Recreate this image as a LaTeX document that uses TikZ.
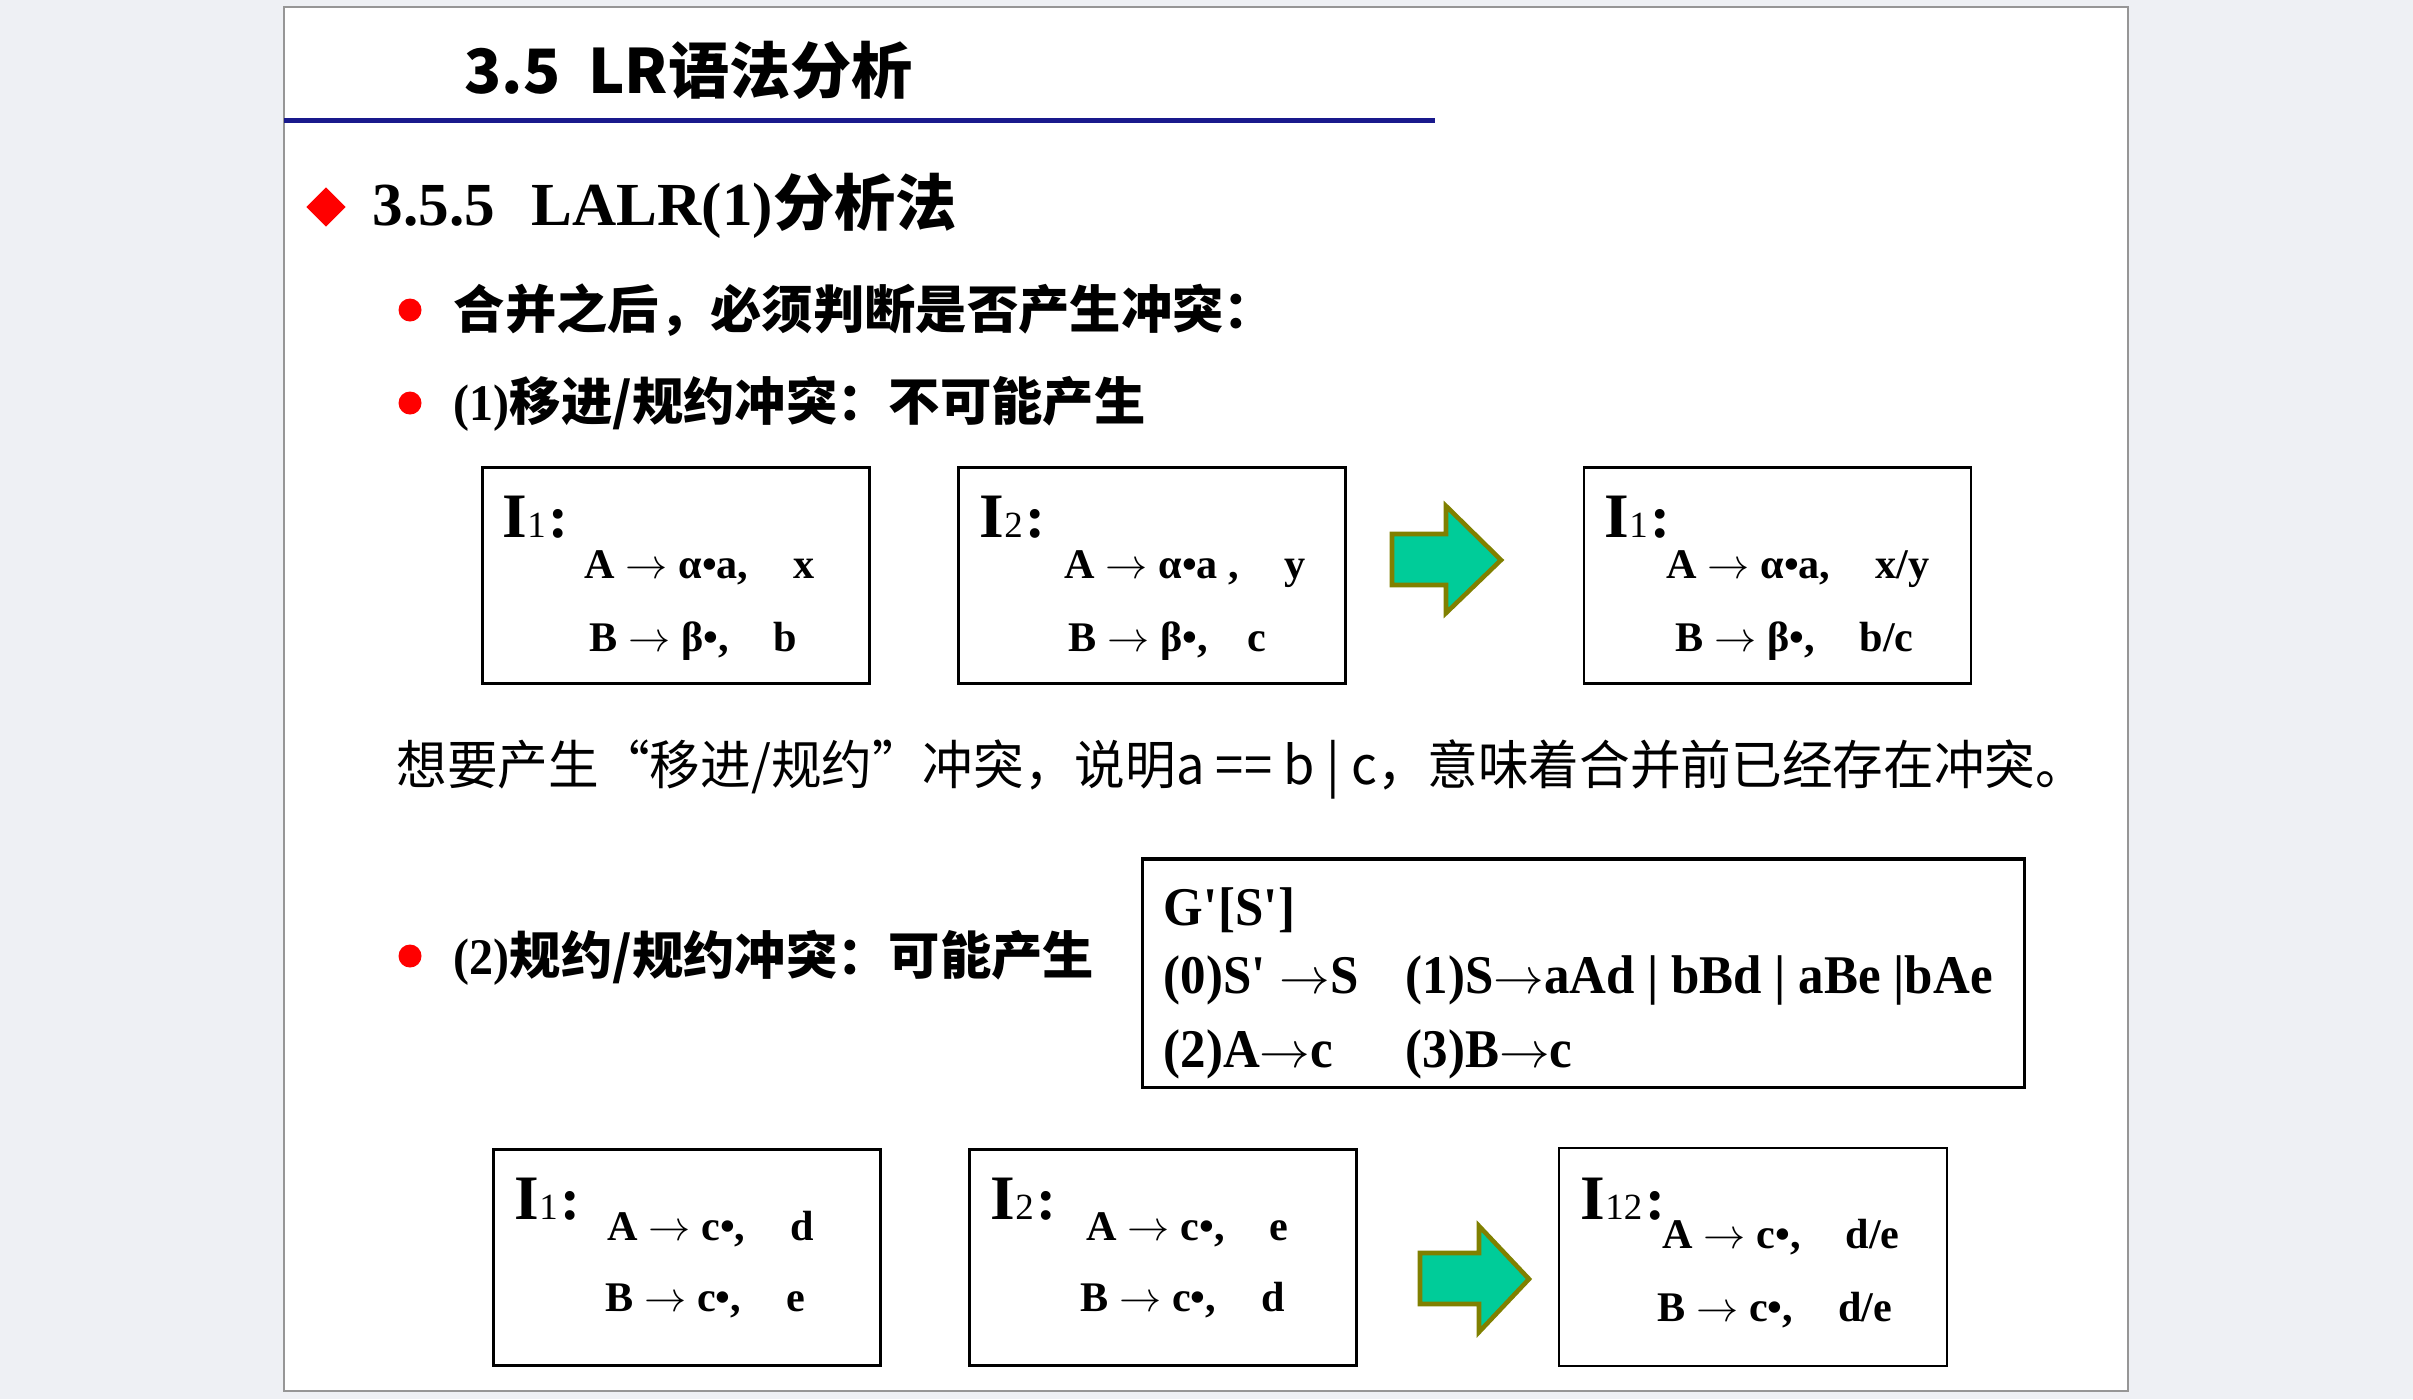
\documentclass[tikz,border=0pt]{standalone}
\usepackage{fontspec}
\setmainfont{Liberation Serif}
\newfontfamily\cjkfont{Noto Sans CJK SC}
\newfontfamily\cjknarrow[FakeStretch=0.96]{Noto Sans CJK SC}
\newfontfamily\narrowfont[FakeStretch=0.935]{Liberation Serif}
\usetikzlibrary{shapes.geometric}

\definecolor{pagegray}{RGB}{238,240,244}
\definecolor{slideedge}{RGB}{150,150,150}
\definecolor{titleblue}{RGB}{25,25,140}
\definecolor{arrowfill}{RGB}{0,204,153}
\definecolor{arrowedge}{RGB}{128,128,0}

% label of an item set: big I, small index, colon
\newcommand{\Ilab}[1]{{\fontsize{18}{18}\selectfont\bfseries I}{\fontsize{10.5}{10.5}\selectfont #1}\hspace{0.03cm}{\fontsize{17}{17}\selectfont\bfseries :}}
\newcommand{\ar}{$\rightarrow$}
\newcommand{\q}{\textquotesingle}

\begin{document}
\begin{tikzpicture}[x=0.01cm, y=-0.01cm,
    txt/.style={anchor=base west, inner sep=0pt},
    itembox/.style={draw, line width=0.7pt, minimum width=3.87cm, minimum height=2.16cm, inner sep=0pt},
    prod/.style={txt, font=\bfseries\fontsize{12}{14}\selectfont},
    gram/.style={txt, font=\narrowfont\bfseries\fontsize{15.5}{18}\selectfont},
    dot/.style={circle, fill=red, minimum size=0.23cm, inner sep=0pt},
    mergearrow/.style={fill=arrowfill, draw=arrowedge, line width=1.3pt, line join=miter}]
  \useasboundingbox (0,0) rectangle (2413,1399);
  \fill[pagegray] (0,0) rectangle (2413,1399);
  \filldraw[fill=white, draw=slideedge, line width=0.5pt] (284,7) rectangle (2128,1391);

  % TITRE
  \node[txt, font=\cjkfont\bfseries\fontsize{17.4}{20}\selectfont] (title) at (464,93) {3.5\hspace{0.45em}LR语法分析};
  \draw[titleblue, line width=0.05cm] (284,120) -- (1435,120);

  % SOUS-TITRE
  \node[diamond, fill=red, minimum width=0.4cm, minimum height=0.4cm, inner sep=0pt] (dia) at (326,207) {};
  \node[txt, font=\fontsize{17.4}{20}\selectfont] (sub) at (372,225) {\bfseries 3.5.5\hspace{0.6em}LALR(1)\cjkfont 分析法};

  % Points
  \node[dot] (p1) at (410,310) {};
  \node[txt, font=\cjkfont\bfseries\fontsize{14.6}{17}\selectfont] (t1) at (453,328) {合并之后，必须判断是否产生冲突：};
  \node[dot] (p2) at (410,403) {};
  \node[txt, font=\bfseries\fontsize{14.6}{17}\selectfont] (t2) at (453,420) {\narrowfont (1)\cjkfont 移进/规约冲突：不可能产生};

  %移进/规约 : I1 + I2 => I1
  \node[itembox] (a1) at (676,575.5) {};
  \node[itembox] (a2) at (1152,575.5) {};
  \node[itembox] (a3) at (1777.5,575.5) {};
  \node[txt] (a1i) at (502,537) {\Ilab{1}};
  \node[prod] (a1a) at (584,578) {A \ar{} α•a,\hspace{0.45cm}x};
  \node[prod] (a1b) at (589,651) {B \ar{} β•,\hspace{0.45cm}b};
  \node[txt] (a2i) at (979,537) {\Ilab{2}};
  \node[prod] (a2a) at (1064,578) {A \ar{} α•a ,\hspace{0.45cm}y};
  \node[prod] (a2b) at (1068,651) {B \ar{} β•,\hspace{0.4cm}c};
  \node[txt] (a3i) at (1604,537) {\Ilab{1}};
  \node[prod] (a3a) at (1666,578) {A \ar{} α•a,\hspace{0.45cm}x/y};
  \node[prod] (a3b) at (1675,651) {B \ar{} β•,\hspace{0.45cm}b/c};
  \filldraw[mergearrow] (1392,534) -- (1446,534) -- (1446,506) -- (1501,560) -- (1446,613) -- (1446,585) -- (1392,585) -- cycle;

  \node[txt, font=\cjknarrow\fontsize{15}{17}\selectfont] (note) at (396,784) {想要产生“移进/规约”冲突，说明a == b | c，意味着合并前已经存在冲突。};

  % 规约/规约
  \node[dot] (p3) at (410,956) {};
  \node[txt, font=\bfseries\fontsize{14.6}{17}\selectfont] (t3) at (453,974) {\narrowfont (2)\cjkfont 规约/规约冲突：可能产生};

  \node[draw, line width=0.9pt, minimum width=8.81cm, minimum height=2.28cm, inner sep=0pt] (gbox) at (1583.5,973) {};
  \node[gram] (g0) at (1163,925) {G\q[S\q]};
  \node[gram] (g1) at (1163,993) {(0)S\q{} \ar{}S};
  \node[gram] (g2) at (1405,993) {(1)S\ar{}aAd | bBd | aBe |bAe};
  \node[gram] (g3) at (1163,1067) {(2)A\ar{}c};
  \node[gram] (g4) at (1405,1067) {(3)B\ar{}c};

  % I1 + I2 => I12
  \node[itembox] (c1) at (687,1257.5) {};
  \node[itembox] (c2) at (1163,1257.5) {};
  \node[itembox, minimum width=3.88cm, minimum height=2.18cm] (c3) at (1753,1257) {};
  \node[txt] (c1i) at (514,1219) {\Ilab{1}};
  \node[prod] (c1a) at (607,1240) {A \ar{} c•,\hspace{0.45cm}d};
  \node[prod] (c1b) at (605,1311) {B \ar{} c•,\hspace{0.45cm}e};
  \node[txt] (c2i) at (990,1219) {\Ilab{2}};
  \node[prod] (c2a) at (1086,1240) {A \ar{} c•,\hspace{0.45cm}e};
  \node[prod] (c2b) at (1080,1311) {B \ar{} c•,\hspace{0.45cm}d};
  \node[txt] (c3i) at (1580,1219) {\Ilab{12}};
  \node[prod] (c3a) at (1662,1248) {A \ar{} c•,\hspace{0.45cm}d/e};
  \node[prod] (c3b) at (1657,1321) {B \ar{} c•,\hspace{0.45cm}d/e};
  \filldraw[mergearrow] (1420,1253) -- (1479,1253) -- (1479,1226) -- (1529,1279) -- (1479,1332) -- (1479,1304) -- (1420,1304) -- cycle;
\end{tikzpicture}
\end{document}
